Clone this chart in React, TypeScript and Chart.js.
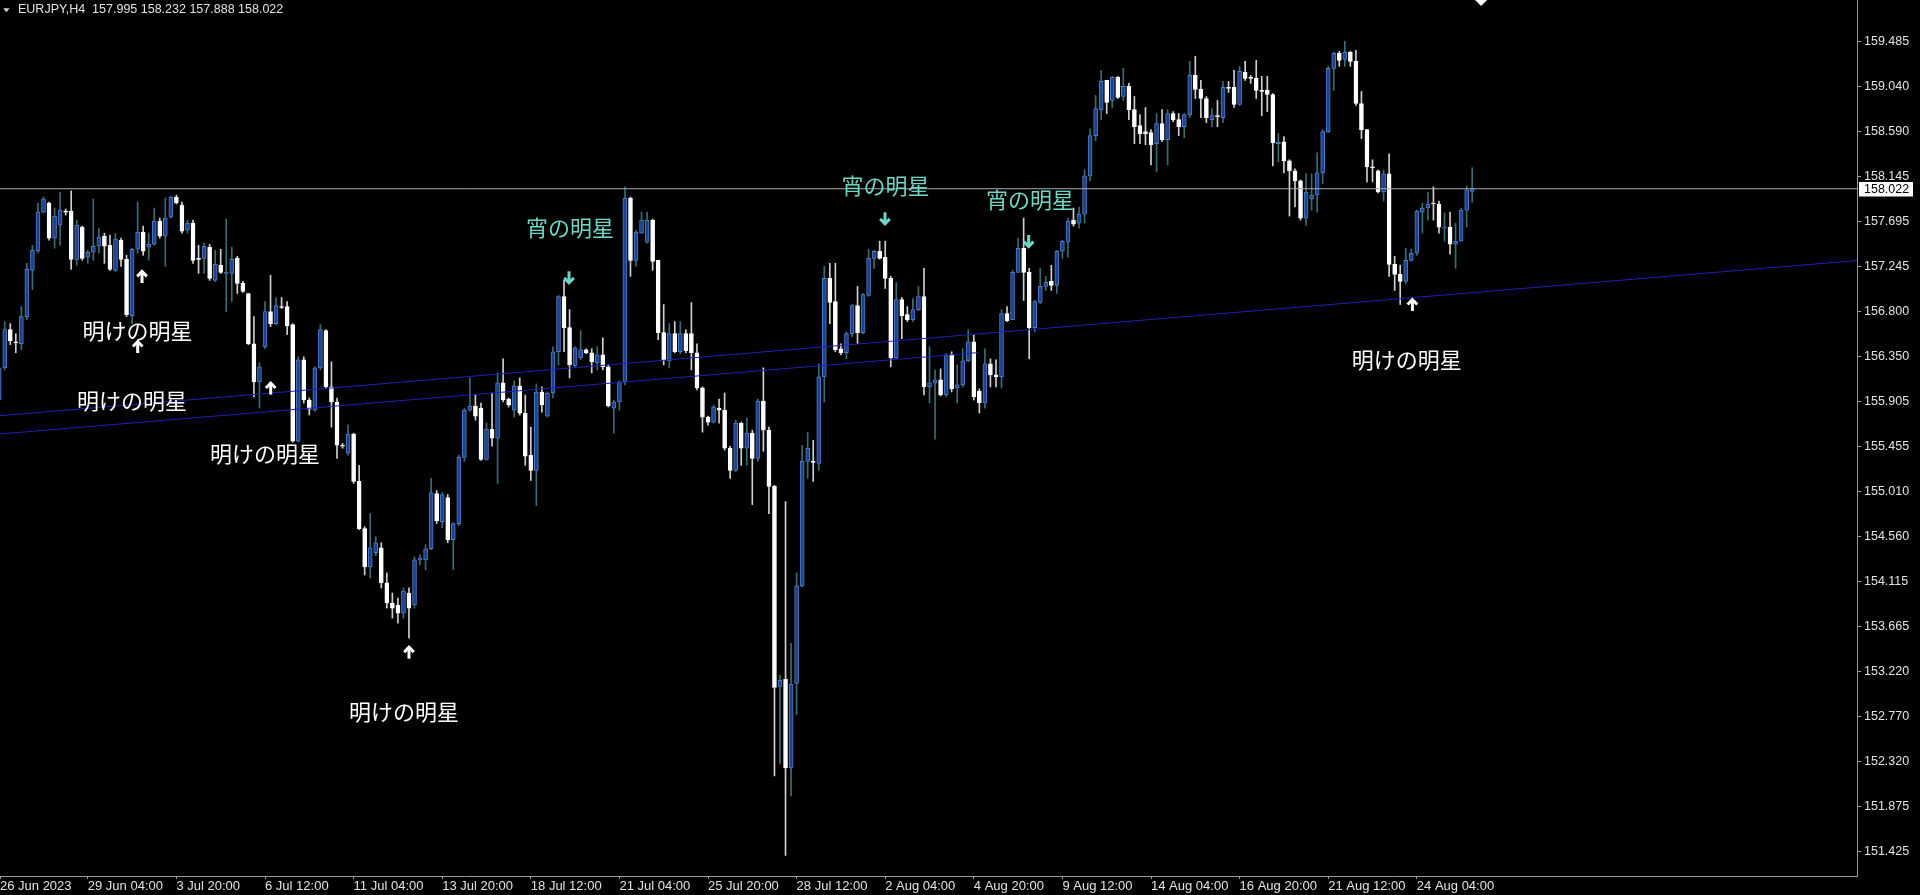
import React, { useEffect, useRef } from "react";
import { Chart, registerables } from "chart.js";

Chart.register(...registerables);

// EURJPY H4 candles, bar 0 = 26 Jun 2023 12:00
const opens = [
  155.92, 156.24, 156.62, 156.50, 156.48, 156.75, 157.21, 157.40, 157.79, 157.88,
  157.53, 157.66, 157.80, 157.80, 157.32, 157.64, 157.34, 157.39, 157.45, 157.55,
  157.46, 157.21, 157.51, 157.32, 156.76, 157.42, 157.59, 157.44, 157.47, 157.70,
  157.55, 157.74, 157.94, 157.86, 157.61, 157.68, 157.33, 157.33, 157.44, 157.11,
  157.26, 157.18, 157.18, 157.33, 157.08, 156.98, 156.48, 156.10, 156.45, 156.80,
  156.68, 156.85, 156.85, 156.67, 155.51, 156.32, 155.92, 155.82, 156.24, 156.61,
  156.05, 155.90, 155.47, 155.39, 155.58, 155.11, 154.64, 154.26, 154.40, 154.45,
  154.10, 153.90, 153.88, 153.80, 154.00, 153.88, 154.33, 154.33, 154.44, 154.99,
  154.71, 154.95, 154.53, 154.69, 155.35, 155.82, 155.86, 155.84, 155.33, 155.63,
  155.54, 156.09, 155.93, 155.82, 156.06, 155.79, 155.37, 155.22, 156.00, 155.76,
  155.99, 156.40, 156.95, 156.64, 156.26, 156.34, 156.42, 156.39, 156.29, 156.37,
  156.25, 155.84, 155.90, 156.10, 157.93, 157.31, 157.58, 157.49, 157.71, 157.31,
  156.59, 156.31, 156.58, 156.40, 156.58, 156.58, 156.39, 156.04, 155.75, 155.70,
  155.84, 155.82, 155.44, 155.22, 155.69, 155.44, 155.59, 155.34, 155.91, 155.62,
  155.06, 153.07, 153.14, 152.26, 153.10, 154.07, 155.31, 155.31, 155.29, 156.15,
  157.13, 156.90, 156.43, 156.39, 156.58, 156.86, 156.59, 156.96, 157.33, 157.40,
  157.34, 157.13, 156.34, 156.92, 156.77, 156.72, 156.82, 156.95, 156.05, 156.09,
  156.12, 155.97, 156.37, 156.04, 156.07, 156.31, 156.50, 156.01, 155.89, 156.28,
  156.17, 156.15, 156.78, 156.72, 157.19, 157.43, 157.19, 156.64, 156.89, 157.05,
  157.10, 157.06, 157.40, 157.49, 157.71, 157.68, 157.77, 158.15, 158.55, 158.81,
  159.10, 158.90, 159.13, 158.94, 159.04, 158.81, 158.65, 158.59, 158.58, 158.47,
  158.67, 158.51, 158.77, 158.71, 158.64, 158.76, 159.15, 159.01, 158.92, 158.71,
  158.75, 158.73, 159.03, 159.03, 158.86, 159.18, 159.13, 159.12, 159.00, 159.00,
  158.96, 158.47, 158.49, 158.30, 158.20, 158.10, 157.73, 157.92, 157.96, 158.18,
  158.59, 159.22, 159.37, 159.31, 159.38, 159.29, 158.87, 158.61, 158.24, 158.20,
  157.99, 158.17, 157.27, 157.17, 157.10, 157.31, 157.38, 157.79, 157.83, 157.88,
  157.87, 157.63, 157.64, 157.47, 157.50, 157.81, 157.995,
];

const highs = [
  156.25, 156.70, 156.68, 156.58, 156.85, 157.28, 157.46, 157.88, 157.94, 157.89,
  157.83, 157.99, 157.82, 158.00, 157.71, 157.65, 157.41, 157.92, 157.63, 157.58,
  157.56, 157.58, 157.53, 157.36, 157.43, 157.89, 157.65, 157.58, 157.83, 157.73,
  157.93, 157.95, 157.96, 157.89, 157.71, 157.71, 157.46, 157.48, 157.47, 157.41,
  157.42, 157.72, 157.44, 157.35, 157.10, 156.98, 156.75, 156.29, 156.90, 157.16,
  156.94, 156.94, 156.90, 156.68, 156.35, 156.35, 155.94, 156.25, 156.67, 156.62,
  156.30, 155.94, 155.49, 155.67, 155.59, 155.27, 154.66, 154.79, 154.56, 154.50,
  154.20, 154.00, 153.95, 154.05, 154.05, 154.36, 154.38, 154.48, 155.14, 155.02,
  155.00, 154.98, 154.70, 155.37, 155.84, 156.14, 155.97, 155.89, 155.69, 155.99,
  156.19, 156.33, 155.94, 156.11, 156.14, 155.97, 155.65, 156.08, 156.05, 156.00,
  156.45, 156.96, 157.11, 156.82, 156.45, 156.61, 156.43, 156.43, 156.45, 156.54,
  156.27, 155.92, 156.11, 158.04, 157.94, 157.61, 157.79, 157.79, 157.72, 157.31,
  156.87, 156.68, 156.70, 156.70, 156.62, 156.89, 156.48, 156.05, 155.76, 155.87,
  155.93, 155.99, 155.46, 155.72, 155.70, 155.74, 155.62, 155.93, 156.24, 155.65,
  155.07, 153.18, 154.91, 153.50, 154.20, 155.47, 155.60, 155.52, 156.28, 157.25,
  157.28, 157.28, 156.48, 156.60, 156.87, 157.05, 156.98, 157.42, 157.41, 157.50,
  157.50, 157.15, 157.09, 156.94, 156.85, 156.93, 157.05, 157.23, 156.45, 156.22,
  156.23, 156.38, 156.40, 156.27, 156.43, 156.62, 156.57, 156.03, 156.43, 156.33,
  156.32, 156.82, 156.85, 157.21, 157.53, 157.73, 157.23, 156.91, 157.23, 157.15,
  157.26, 157.41, 157.51, 157.73, 157.83, 157.84, 158.21, 158.62, 158.95, 159.20,
  159.10, 159.14, 159.14, 159.22, 159.07, 158.94, 158.76, 158.83, 158.61, 158.77,
  158.81, 158.81, 158.79, 158.77, 158.77, 159.29, 159.34, 159.10, 158.94, 158.82,
  158.90, 159.09, 159.09, 159.20, 159.24, 159.29, 159.15, 159.30, 159.14, 159.14,
  158.97, 158.57, 158.54, 158.31, 158.22, 158.11, 158.17, 158.17, 158.38, 158.61,
  159.24, 159.38, 159.39, 159.49, 159.39, 159.40, 158.99, 158.61, 158.31, 158.21,
  158.21, 158.37, 157.35, 157.26, 157.43, 157.42, 157.81, 157.88, 157.99, 158.04,
  157.90, 157.78, 157.79, 157.68, 157.83, 158.05, 158.232,
];

const lows = [
  155.89, 156.22, 156.47, 156.39, 156.42, 156.72, 157.02, 157.38, 157.78, 157.51,
  157.43, 157.46, 157.76, 157.22, 157.26, 157.31, 157.28, 157.31, 157.38, 157.28,
  157.21, 157.20, 157.25, 156.75, 156.68, 157.38, 157.36, 157.31, 157.46, 157.53,
  157.25, 157.73, 157.87, 157.58, 157.58, 157.28, 157.18, 157.18, 157.11, 157.10,
  157.18, 156.80, 156.90, 156.98, 156.99, 156.47, 155.95, 155.84, 156.43, 156.65,
  156.67, 156.83, 156.57, 155.50, 155.50, 155.89, 155.77, 155.81, 156.22, 156.04,
  155.65, 155.34, 155.44, 155.37, 155.09, 154.63, 154.18, 154.15, 154.37, 154.05,
  153.85, 153.75, 153.70, 153.75, 153.55, 153.85, 154.28, 154.23, 154.43, 154.69,
  154.65, 154.50, 154.23, 154.67, 155.31, 155.81, 155.72, 155.32, 155.32, 155.46,
  155.09, 155.90, 155.85, 155.75, 155.77, 155.27, 155.12, 154.87, 155.80, 155.75,
  155.94, 156.27, 156.40, 156.14, 156.25, 156.32, 156.38, 156.19, 156.22, 156.22,
  155.85, 155.59, 155.82, 156.07, 157.15, 157.25, 157.58, 157.48, 157.21, 156.52,
  156.27, 156.24, 156.39, 156.38, 156.39, 156.22, 156.02, 155.60, 155.67, 155.69,
  155.69, 155.42, 155.14, 155.21, 155.27, 155.27, 154.88, 155.31, 155.41, 154.79,
  152.18, 152.30, 151.39, 151.98, 152.79, 154.06, 155.14, 155.11, 155.22, 155.90,
  156.68, 156.40, 156.37, 156.33, 156.55, 156.48, 156.58, 156.95, 157.23, 157.32,
  157.03, 156.25, 156.33, 156.53, 156.70, 156.70, 156.81, 155.97, 155.89, 155.53,
  155.96, 155.95, 156.00, 155.89, 156.05, 156.30, 155.92, 155.79, 155.84, 156.05,
  156.05, 156.04, 156.70, 156.72, 157.19, 156.91, 156.33, 156.60, 156.88, 157.01,
  157.01, 156.98, 157.33, 157.34, 157.65, 157.63, 157.68, 158.10, 158.50, 158.71,
  158.77, 158.83, 158.92, 158.90, 158.71, 158.47, 158.47, 158.46, 158.26, 158.19,
  158.49, 158.26, 158.69, 158.55, 158.53, 158.73, 158.92, 158.73, 158.68, 158.64,
  158.64, 158.68, 158.98, 158.83, 158.85, 159.10, 159.07, 158.92, 158.75, 158.79,
  158.25, 158.29, 158.18, 157.75, 157.84, 157.71, 157.66, 157.81, 157.79, 158.07,
  158.58, 159.00, 159.24, 159.24, 159.24, 158.85, 158.52, 158.09, 158.09, 157.98,
  157.90, 157.15, 157.01, 156.87, 157.08, 157.30, 157.36, 157.58, 157.71, 157.71,
  157.58, 157.50, 157.37, 157.23, 157.50, 157.64, 157.888,
];

const closes = [
  156.24, 156.62, 156.51, 156.49, 156.75, 157.22, 157.41, 157.79, 157.92, 157.53,
  157.75, 157.81, 157.79, 157.32, 157.66, 157.33, 157.39, 157.45, 157.54, 157.45,
  157.22, 157.52, 157.32, 156.77, 157.42, 157.59, 157.40, 157.47, 157.70, 157.55,
  157.73, 157.94, 157.88, 157.60, 157.68, 157.31, 157.32, 157.45, 157.13, 157.27,
  157.19, 157.18, 157.32, 157.08, 157.00, 156.48, 156.10, 156.25, 156.80, 156.68,
  156.86, 156.84, 156.66, 155.51, 156.32, 155.92, 155.83, 156.24, 156.62, 156.05,
  155.90, 155.47, 155.46, 155.58, 155.11, 154.64, 154.26, 154.45, 154.50, 154.10,
  153.90, 153.85, 153.80, 154.02, 153.85, 154.33, 154.35, 154.44, 155.00, 154.72,
  154.98, 154.53, 154.69, 155.35, 155.82, 155.86, 155.76, 155.33, 155.63, 155.54,
  156.09, 155.92, 155.87, 156.06, 155.79, 155.36, 155.22, 156.00, 155.87, 155.99,
  156.40, 156.95, 156.64, 156.27, 156.44, 156.42, 156.39, 156.30, 156.37, 156.25,
  155.86, 155.90, 156.10, 157.93, 157.31, 157.59, 157.71, 157.71, 157.30, 156.59,
  156.32, 156.58, 156.40, 156.58, 156.41, 156.39, 156.04, 155.75, 155.70, 155.85,
  155.82, 155.44, 155.22, 155.69, 155.44, 155.59, 155.34, 155.91, 155.62, 155.06,
  153.06, 153.13, 152.26, 153.09, 154.07, 155.31, 155.44, 155.30, 156.15, 157.13,
  156.89, 156.42, 156.39, 156.58, 156.86, 156.59, 156.97, 157.33, 157.40, 157.33,
  157.13, 156.34, 156.92, 156.76, 156.72, 156.82, 156.95, 156.05, 156.09, 156.12,
  155.97, 156.37, 156.03, 156.07, 156.31, 156.50, 155.95, 155.89, 156.28, 156.17,
  156.15, 156.78, 156.71, 157.19, 157.43, 157.19, 156.64, 156.90, 157.05, 157.09,
  157.06, 157.40, 157.50, 157.70, 157.67, 157.77, 158.15, 158.55, 158.82, 159.09,
  158.88, 159.13, 158.93, 159.04, 158.81, 158.64, 158.57, 158.57, 158.46, 158.67,
  158.51, 158.77, 158.71, 158.64, 158.76, 159.15, 159.01, 158.92, 158.73, 158.75,
  158.74, 159.03, 159.02, 158.86, 159.19, 159.12, 159.12, 159.00, 158.99, 158.96,
  158.48, 158.49, 158.30, 158.20, 158.10, 157.73, 157.99, 157.96, 158.18, 158.59,
  159.22, 159.37, 159.30, 159.38, 159.29, 158.87, 158.61, 158.24, 158.23, 157.99,
  158.17, 157.27, 157.17, 157.10, 157.31, 157.38, 157.80, 157.83, 157.87, 157.87,
  157.64, 157.64, 157.47, 157.50, 157.81, 158.01, 158.022,
];

// time axis: one label every 16 bars
const xTickBars = [0, 16, 32, 48, 64, 80, 96, 112, 128, 144, 160, 176, 192, 208, 224, 240, 256];
const xTickLabels = [
  "26 Jun 2023", "29 Jun 04:00", "3 Jul 20:00", "6 Jul 12:00", "11 Jul 04:00",
  "13 Jul 20:00", "18 Jul 12:00", "21 Jul 04:00", "25 Jul 20:00", "28 Jul 12:00",
  "2 Aug 04:00", "4 Aug 20:00", "9 Aug 12:00", "14 Aug 04:00", "16 Aug 20:00",
  "21 Aug 12:00", "24 Aug 04:00",
];

// price axis labels
const yTickValues = [
  159.485, 159.04, 158.59, 158.145, 157.695, 157.245, 156.8, 156.35, 155.905, 155.455,
  155.01, 154.56, 154.115, 153.665, 153.22, 152.77, 152.32, 151.875, 151.425,
];

// trend lines (bar index, price)
const trendUpperBars = [0.1445, 335.49];
const trendUpperPrices = [155.764, 157.308];
const trendLowerBars = [0.1445, 176.8];
const trendLowerPrices = [155.582, 156.392];

const bidPrice = 158.022;
const headerText = "EURJPY,H4  157.995 158.232 157.888 158.022";

// candlestick pattern notes
const noteTexts = [
  "明けの明星", "明けの明星", "明けの明星", "明けの明星",
  "宵の明星", "宵の明星", "宵の明星", "明けの明星",
];
const noteBars = [24.97, 23.98, 48.0, 73.1, 103.08, 160.05, 186.15, 254.2];
const notePrices = [156.607, 155.91, 155.383, 152.821, 157.631, 158.049, 157.91, 156.318];
const noteKinds = ["morning", "morning", "morning", "morning", "evening", "evening", "evening", "morning"];

const arrowBars = [25.79, 25.01, 49.03, 74.0, 102.9, 159.96, 185.9, 255.2];
const arrowPrices = [157.144, 156.447, 156.034, 153.406, 157.141, 157.728, 157.502, 156.865];
const arrowKinds = ["morning", "morning", "morning", "morning", "evening", "evening", "evening", "morning"];

const X_MIN = 0.1445;
const X_MAX = 335.49;
const Y_MIN = 151.184;
const Y_MAX = 159.9;

const AXIS_COLOR = "#9a9a9a";
const TEXT_COLOR = "#e2e2e2";
const BULL_FILL = "#20418a";
const BULL_EDGE = "#4a7cc8";
const BULL_WICK = "#3a6c78";
const BEAR_FILL = "#ffffff";
const BEAR_WICK = "#cfcfcf";
const TREND_COLOR = "#2020b4";
const BID_COLOR = "#a8a8a8";
const MORNING_COLOR = "#ffffff";
const EVENING_COLOR = "#6fd6c6";
const UI_FONT = '"Liberation Sans", Arial, sans-serif';

function drawArrow(ctx: CanvasRenderingContext2D, cx: number, cy: number, up: boolean, color: string) {
  ctx.save();
  ctx.translate(cx, cy);
  if (!up) ctx.scale(1, -1);
  ctx.strokeStyle = color;
  ctx.lineWidth = 3;
  ctx.lineCap = "butt";
  ctx.lineJoin = "miter";
  ctx.beginPath();
  ctx.moveTo(0, -5.5);
  ctx.lineTo(0, 6);
  ctx.stroke();
  ctx.beginPath();
  ctx.moveTo(-4.8, -0.6);
  ctx.lineTo(0, -5.5);
  ctx.lineTo(4.8, -0.6);
  ctx.stroke();
  ctx.restore();
}

const overlayPlugin = {
  id: "overlay",
  afterDatasetsDraw(chart: any) {
    const { ctx, scales } = chart;
    const xs = scales.x;
    const ys = scales.y;
    ctx.save();
    ctx.font = '22px "Noto Sans CJK JP", sans-serif';
    ctx.textAlign = "center";
    ctx.textBaseline = "middle";
    noteTexts.forEach((t, k) => {
      ctx.fillStyle = noteKinds[k] === "morning" ? MORNING_COLOR : EVENING_COLOR;
      ctx.fillText(t, xs.getPixelForValue(noteBars[k]), ys.getPixelForValue(notePrices[k]));
    });
    arrowBars.forEach((b, k) => {
      const morning = arrowKinds[k] === "morning";
      drawArrow(
        ctx,
        xs.getPixelForValue(b),
        ys.getPixelForValue(arrowPrices[k]),
        morning,
        morning ? MORNING_COLOR : EVENING_COLOR
      );
    });
    ctx.restore();
  },
  afterDraw(chart: any) {
    const { ctx, chartArea, scales } = chart;
    const ys = scales.y;
    ctx.save();
    // symbol header
    ctx.fillStyle = "#d6d6d6";
    ctx.beginPath();
    ctx.moveTo(3.3, 8.3);
    ctx.lineTo(9.5, 8.3);
    ctx.lineTo(6.4, 12.3);
    ctx.closePath();
    ctx.fill();
    ctx.font = `12.5px ${UI_FONT}`;
    ctx.textAlign = "left";
    ctx.textBaseline = "middle";
    ctx.fillStyle = TEXT_COLOR;
    ctx.fillText(headerText, 18, 10);

    // current price tag on the price axis
    const by = ys.getPixelForValue(bidPrice);
    ctx.fillStyle = "#ffffff";
    ctx.fillRect(chartArea.right + 2, Math.round(by) - 7, 54, 14.5);
    ctx.fillStyle = "#000000";
    ctx.fillText(bidPrice.toFixed(3), chartArea.right + 7, by + 0.5);

    // chart shift marker
    const sx = scales.x.getPixelForValue(267.6);
    ctx.fillStyle = "#ffffff";
    ctx.beginPath();
    ctx.moveTo(sx - 6, 0);
    ctx.lineTo(sx + 6, 0);
    ctx.lineTo(sx, 6);
    ctx.closePath();
    ctx.fill();
    ctx.restore();
  },
};

export default function App() {
  const canvasRef = useRef<HTMLCanvasElement | null>(null);

  useEffect(() => {
    document.body.style.margin = "0";
    document.body.style.background = "#000";
    const canvas = canvasRef.current;
    if (!canvas) return;

    const idx = opens.map((_, i) => i);
    const bull = idx.map((i) => closes[i] >= opens[i]);

    const chart = new Chart(canvas, {
      type: "bar",
      data: {
        datasets: [
          {
            type: "line",
            data: trendUpperBars.map((b, k) => ({ x: b, y: trendUpperPrices[k] })),
            borderColor: TREND_COLOR,
            borderWidth: 1,
            pointRadius: 0,
            order: -3,
          } as any,
          {
            type: "line",
            data: trendLowerBars.map((b, k) => ({ x: b, y: trendLowerPrices[k] })),
            borderColor: TREND_COLOR,
            borderWidth: 1,
            pointRadius: 0,
            order: -2,
          } as any,
          {
            type: "line",
            data: [
              { x: X_MIN, y: bidPrice },
              { x: X_MAX, y: bidPrice },
            ],
            borderColor: BID_COLOR,
            borderWidth: 1,
            pointRadius: 0,
            order: -1,
          } as any,
          {
            type: "bar",
            data: idx.map((i) => ({ x: i, y: [opens[i], closes[i]] })),
            backgroundColor: bull.map((b) => (b ? BULL_FILL : BEAR_FILL)),
            borderColor: bull.map((b) => (b ? BULL_EDGE : BEAR_FILL)),
            borderWidth: 1,
            borderSkipped: false,
            barThickness: 4,
            minBarLength: 1,
            grouped: false,
            order: 1,
          } as any,
          {
            type: "bar",
            data: idx.map((i) => ({ x: i, y: [lows[i], highs[i]] })),
            backgroundColor: bull.map((b) => (b ? BULL_WICK : BEAR_WICK)),
            borderWidth: 0,
            barThickness: 1,
            minBarLength: 1,
            grouped: false,
            order: 2,
          } as any,
        ],
      },
      options: {
        animation: false,
        responsive: false,
        devicePixelRatio: 1,
        events: [],
        layout: { padding: 0 },
        plugins: {
          legend: { display: false },
          tooltip: { enabled: false },
          title: { display: false },
        },
        scales: {
          x: {
            type: "linear",
            min: X_MIN,
            max: X_MAX,
            offset: false,
            grid: {
              display: true,
              drawOnChartArea: false,
              drawTicks: true,
              tickLength: 3,
              color: AXIS_COLOR,
              offset: false,
            },
            border: { display: true, color: AXIS_COLOR, width: 1 },
            ticks: {
              autoSkip: false,
              maxRotation: 0,
              minRotation: 0,
              align: "start",
              padding: 0,
              color: TEXT_COLOR,
              font: { family: UI_FONT, size: 13 },
              callback: (_v: any, i: number) => xTickLabels[i] ?? "",
            },
            afterBuildTicks: (s: any) => {
              s.ticks = xTickBars.map((b) => ({ value: Math.max(b, X_MIN) }));
            },
            afterFit: (s: any) => {
              s.height = 19;
              s.paddingLeft = 0;
              s.paddingRight = 0;
            },
          },
          y: {
            type: "linear",
            position: "right",
            min: Y_MIN,
            max: Y_MAX,
            grid: {
              display: true,
              drawOnChartArea: false,
              drawTicks: true,
              tickLength: 4,
              color: AXIS_COLOR,
            },
            border: { display: true, color: AXIS_COLOR, width: 1 },
            ticks: {
              autoSkip: false,
              padding: 3,
              color: TEXT_COLOR,
              font: { family: UI_FONT, size: 12.5 },
              callback: (v: any) => Number(v).toFixed(3),
            },
            afterBuildTicks: (s: any) => {
              s.ticks = yTickValues.map((v) => ({ value: v }));
            },
            afterFit: (s: any) => {
              s.width = 63;
              s.paddingTop = 0;
              s.paddingBottom = 0;
            },
          },
        },
      } as any,
      plugins: [overlayPlugin],
    });

    return () => chart.destroy();
  }, []);

  return (
    <div style={{ position: "fixed", left: 0, top: 0, width: 1920, height: 895, background: "#000" }}>
      <canvas ref={canvasRef} width={1920} height={895} style={{ display: "block" }} />
    </div>
  );
}
